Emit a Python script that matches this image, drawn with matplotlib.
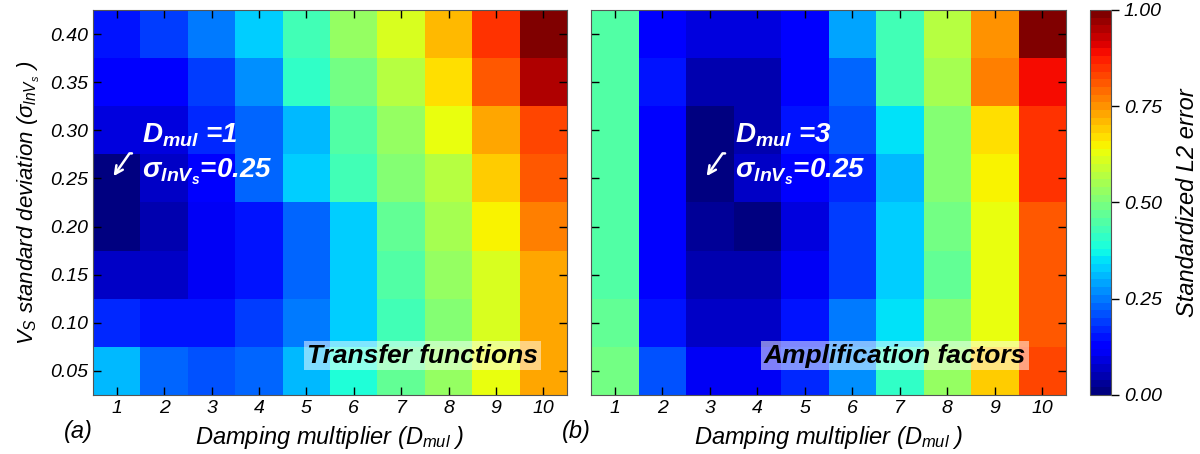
import numpy as np
import matplotlib as mpl
from matplotlib import pyplot as plt

mpl.rcParams['font.family'] = 'Liberation Sans'
mpl.rcParams['font.style'] = 'italic'
mpl.rcParams['mathtext.fontset'] = 'custom'
mpl.rcParams['mathtext.rm'] = 'Liberation Sans:italic'
mpl.rcParams['mathtext.it'] = 'Liberation Sans:italic'
mpl.rcParams['mathtext.bf'] = 'Liberation Sans:bold:italic'
mpl.rcParams.update({'font.size': 14})

dmul = [1, 2, 3, 4, 5, 6, 7, 8, 9, 10]
sigma = [0.05, 0.10, 0.15, 0.20, 0.25, 0.30, 0.35, 0.40]

# rows: sigma 0.05 -> 0.40, columns: Dmul 1 -> 10
err_tf = [
  [0.30, 0.22, 0.21, 0.23, 0.30, 0.39, 0.46, 0.53, 0.63, 0.73],
  [0.17, 0.15, 0.15, 0.18, 0.25, 0.33, 0.43, 0.51, 0.61, 0.72],
  [0.06, 0.07, 0.10, 0.14, 0.22, 0.33, 0.44, 0.52, 0.60, 0.72],
  [0.01, 0.04, 0.11, 0.14, 0.23, 0.32, 0.46, 0.55, 0.65, 0.76],
  [0.00, 0.06, 0.12, 0.22, 0.33, 0.42, 0.50, 0.58, 0.69, 0.80],
  [0.08, 0.09, 0.16, 0.22, 0.31, 0.44, 0.52, 0.62, 0.73, 0.83],
  [0.12, 0.12, 0.18, 0.27, 0.41, 0.48, 0.56, 0.67, 0.80, 0.94],
  [0.14, 0.19, 0.25, 0.33, 0.43, 0.52, 0.61, 0.71, 0.84, 1.00],
]
err_af = [
  [0.49, 0.21, 0.11, 0.11, 0.17, 0.26, 0.40, 0.53, 0.69, 0.83],
  [0.47, 0.15, 0.07, 0.07, 0.14, 0.25, 0.35, 0.51, 0.63, 0.81],
  [0.45, 0.12, 0.04, 0.04, 0.11, 0.19, 0.32, 0.47, 0.62, 0.80],
  [0.45, 0.12, 0.02, 0.00, 0.08, 0.19, 0.32, 0.49, 0.62, 0.80],
  [0.45, 0.12, 0.01, 0.06, 0.12, 0.17, 0.30, 0.50, 0.64, 0.85],
  [0.45, 0.12, 0.00, 0.04, 0.14, 0.21, 0.34, 0.50, 0.67, 0.84],
  [0.45, 0.14, 0.05, 0.05, 0.13, 0.22, 0.42, 0.54, 0.76, 0.89],
  [0.45, 0.12, 0.09, 0.09, 0.13, 0.28, 0.43, 0.58, 0.74, 1.00],
]
titles = ["Transfer functions", "Amplification factors"]
best = [(1, 0.25), (3, 0.25)]
panel = ["(a)", "(b)"]

cmap = plt.get_cmap('jet', 50)

fig = plt.figure(figsize=(12, 4.54), dpi=100)
ax1 = fig.add_axes([0.0775, 0.130, 0.395, 0.848])
ax2 = fig.add_axes([0.4925, 0.130, 0.396, 0.848])
cax = fig.add_axes([0.908, 0.130, 0.0175, 0.848])

for i, (ax, data) in enumerate(zip([ax1, ax2], [err_tf, err_af])):
  x = np.array(dmul)
  y = np.array(sigma)
  xe = np.concatenate([x - 0.5, [x[-1] + 0.5]])
  ye = np.concatenate([y - 0.025, [y[-1] + 0.025]])
  im = ax.pcolormesh(xe, ye, np.array(data), cmap=cmap, vmin=0, vmax=1)
  ax.set_xlim(0.5, 10.5)
  ax.set_ylim(0.025, 0.425)
  ax.set_xticks(dmul)
  ax.set_yticks(sigma)
  ax.tick_params(direction='in', top=True, right=True, length=6, width=1, labelsize=14)
  if i == 0:
    ax.set_yticklabels([f"{s:.2f}" for s in sigma])
    ax.set_ylabel(r"$V_S$ standard deviation ($\sigma_{lnV_s}$ )", fontsize=16, labelpad=6)
  else:
    ax.set_yticklabels([])
  ax.set_xlabel(r"Damping multiplier ($D_{mul}$ )", fontsize=17, labelpad=5)
  for sp in ax.spines.values():
    sp.set_color('#555555')
  # best-fit annotation
  bx, by = best[i]
  ax.annotate("", xy=(bx - 0.1, by), xytext=(bx + 0.38, by + 0.026),
              arrowprops=dict(arrowstyle='->', color='white', lw=1.8,
                              connectionstyle="angle,angleA=0,angleB=55,rad=0"))
  ax.text(bx + 0.53, 0.295, r"$\mathbf{D_{mul}}$" + f" ={bx}", color='white',
          fontsize=20, fontweight='bold', va='center', ha='left')
  ax.text(bx + 0.53, 0.257, r"$\mathbf{σ_{lnV_s}}$" + f"={by:.2f}", color='white',
          fontsize=20, fontweight='bold', va='center', ha='left')
  ax.text(9.88 if i == 0 else 9.66, 0.066, titles[i], fontsize=19, fontweight='bold',
          ha='right', va='center', color='black',
          bbox=dict(facecolor='white', alpha=0.5, edgecolor='none', pad=2))
  fig.text(ax.get_position().x0 + 0.0, 0.05, panel[i], fontsize=17, ha='right', va='center')

cb = fig.colorbar(im, cax=cax, ticks=[0, 0.25, 0.5, 0.75, 1.0])
cb.ax.set_yticklabels(["0.00", "0.25", "0.50", "0.75", "1.00"])
cb.ax.tick_params(direction='out', length=6, width=1, labelsize=14)
cb.outline.set_edgecolor('#555555')
cb.set_label("Standardized L2 error", fontsize=17, labelpad=10)

plt.savefig("out.png", dpi=100)
